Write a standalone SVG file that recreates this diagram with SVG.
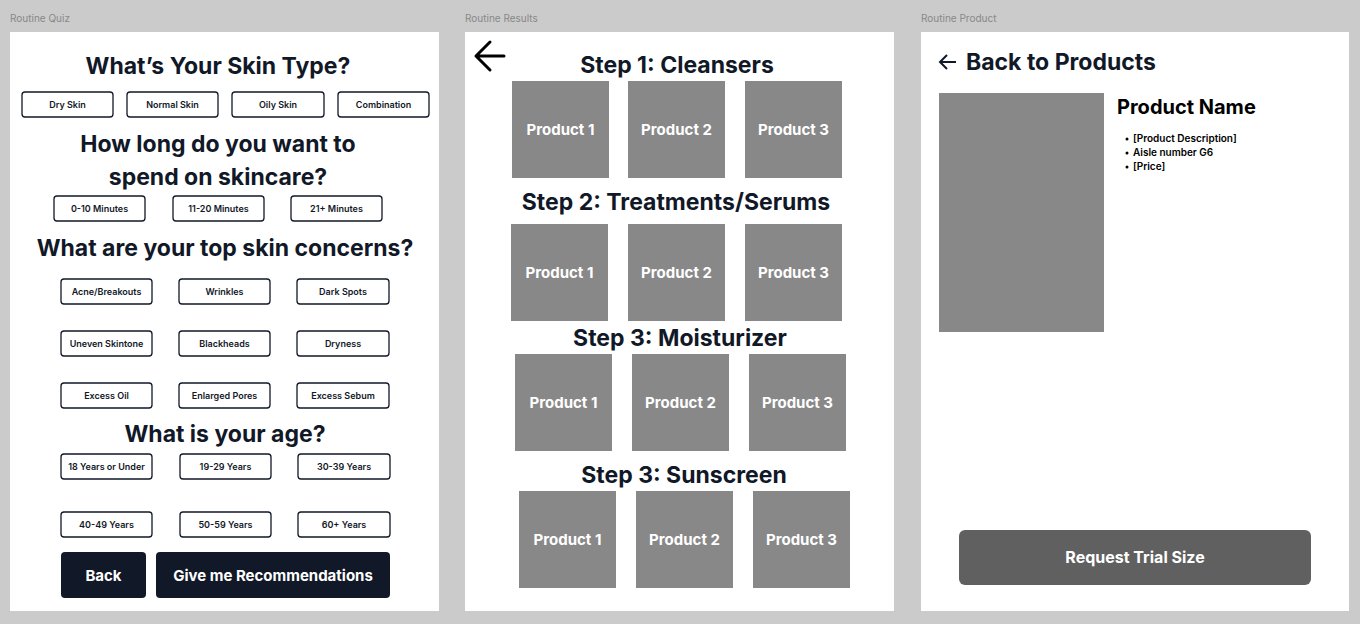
<svg xmlns="http://www.w3.org/2000/svg" width="1360" height="624" viewBox="0 0 1360 624">
<style>
text{font-family:Inter,"Liberation Sans",sans-serif;}
.lbl{font-size:10px;fill:#888;}
.h{font-size:23px;font-weight:700;fill:#111827;text-anchor:middle;}
.ob{fill:#fff;stroke:#111827;stroke-width:1.3;}
.ot{font-size:9px;font-weight:600;fill:#111827;text-anchor:middle;}
.pr{fill:#888;}
.pt{font-size:15px;font-weight:700;fill:#fff;text-anchor:middle;}
</style>
<rect width="1360" height="624" fill="#cbcbcb"/>
<text class="lbl" x="10" y="22">Routine Quiz</text>
<text class="lbl" x="465" y="22">Routine Results</text>
<text class="lbl" x="921" y="22">Routine Product</text>
<g id="quiz">
<rect x="10" y="32" width="429" height="579" fill="#fff"/>
<text class="h" x="218" y="74">What’s Your Skin Type?</text>
<g id="skin-type">
<rect class="ob" x="22" y="92" width="91" height="25" rx="3"/><text class="ot" x="67.5" y="108">Dry Skin</text>
<rect class="ob" x="127" y="92" width="91" height="25" rx="3"/><text class="ot" x="172.5" y="108">Normal Skin</text>
<rect class="ob" x="232" y="92" width="92" height="25" rx="3"/><text class="ot" x="278" y="108">Oily Skin</text>
<rect class="ob" x="338" y="92" width="91" height="25" rx="3"/><text class="ot" x="383.5" y="108">Combination</text>
</g>
<text class="h" x="218" y="152">How long do you want to</text>
<text class="h" x="218" y="185">spend on skincare?</text>
<g id="time">
<rect class="ob" x="54" y="196" width="91" height="25" rx="3"/><text class="ot" x="99.5" y="212">0-10 Minutes</text>
<rect class="ob" x="173" y="196" width="91" height="25" rx="3"/><text class="ot" x="218.5" y="212">11-20 Minutes</text>
<rect class="ob" x="291" y="196" width="91" height="25" rx="3"/><text class="ot" x="336.5" y="212">21+ Minutes</text>
</g>
<text class="h" x="225" y="256">What are your top skin concerns?</text>
<g id="concerns">
<rect class="ob" x="61" y="279" width="91" height="25" rx="3"/><text class="ot" x="106.5" y="295">Acne/Breakouts</text>
<rect class="ob" x="179" y="279" width="91" height="25" rx="3"/><text class="ot" x="224.5" y="295">Wrinkles</text>
<rect class="ob" x="297" y="279" width="92" height="25" rx="3"/><text class="ot" x="343" y="295">Dark Spots</text>
<rect class="ob" x="61" y="331" width="91" height="25" rx="3"/><text class="ot" x="106.5" y="347">Uneven Skintone</text>
<rect class="ob" x="179" y="331" width="91" height="25" rx="3"/><text class="ot" x="224.5" y="347">Blackheads</text>
<rect class="ob" x="297" y="331" width="92" height="25" rx="3"/><text class="ot" x="343" y="347">Dryness</text>
<rect class="ob" x="61" y="383" width="91" height="25" rx="3"/><text class="ot" x="106.5" y="399">Excess Oil</text>
<rect class="ob" x="179" y="383" width="91" height="25" rx="3"/><text class="ot" x="224.5" y="399">Enlarged Pores</text>
<rect class="ob" x="297" y="383" width="92" height="25" rx="3"/><text class="ot" x="343" y="399">Excess Sebum</text>
</g>
<text class="h" x="225" y="442">What is your age?</text>
<g id="age">
<rect class="ob" x="61" y="454" width="91" height="25" rx="3"/><text class="ot" x="106.5" y="470">18 Years or Under</text>
<rect class="ob" x="180" y="454" width="91" height="25" rx="3"/><text class="ot" x="225.5" y="470">19-29 Years</text>
<rect class="ob" x="298" y="454" width="92" height="25" rx="3"/><text class="ot" x="344" y="470">30-39 Years</text>
<rect class="ob" x="61" y="512" width="91" height="25" rx="3"/><text class="ot" x="106.5" y="528">40-49 Years</text>
<rect class="ob" x="180" y="512" width="91" height="25" rx="3"/><text class="ot" x="225.5" y="528">50-59 Years</text>
<rect class="ob" x="298" y="512" width="92" height="25" rx="3"/><text class="ot" x="344" y="528">60+ Years</text>
</g>
<g id="actions">
<rect x="61" y="552" width="85" height="46" rx="4" fill="#111827"/>
<text x="103.5" y="581" font-size="15" font-weight="700" fill="#fff" text-anchor="middle">Back</text>
<rect x="156" y="552" width="234" height="46" rx="4" fill="#111827"/>
<text x="273" y="581" font-size="15" font-weight="700" fill="#fff" text-anchor="middle">Give me Recommendations</text>
</g>
</g>
<g id="results">
<rect x="465" y="32" width="429" height="579" fill="#fff"/>
<path d="M504 56H476M490 42L476 56L490 70" fill="none" stroke="#000" stroke-width="3" stroke-linecap="round" stroke-linejoin="round"/>
<text class="h" x="677" y="73">Step 1: Cleansers</text>
<rect class="pr" x="512" y="81" width="97" height="97"/><text class="pt" x="560.5" y="135">Product 1</text>
<rect class="pr" x="628" y="81" width="97" height="97"/><text class="pt" x="676.5" y="135">Product 2</text>
<rect class="pr" x="745" y="81" width="97" height="97"/><text class="pt" x="793.5" y="135">Product 3</text>
<text class="h" x="676" y="210">Step 2: Treatments/Serums</text>
<rect class="pr" x="511" y="224" width="97" height="97"/><text class="pt" x="559.5" y="278">Product 1</text>
<rect class="pr" x="628" y="224" width="97" height="97"/><text class="pt" x="676.5" y="278">Product 2</text>
<rect class="pr" x="745" y="224" width="97" height="97"/><text class="pt" x="793.5" y="278">Product 3</text>
<text class="h" x="680" y="346">Step 3: Moisturizer</text>
<rect class="pr" x="515" y="354" width="97" height="97"/><text class="pt" x="563.5" y="408">Product 1</text>
<rect class="pr" x="632" y="354" width="97" height="97"/><text class="pt" x="680.5" y="408">Product 2</text>
<rect class="pr" x="749" y="354" width="97" height="97"/><text class="pt" x="797.5" y="408">Product 3</text>
<text class="h" x="684" y="483">Step 3: Sunscreen</text>
<rect class="pr" x="519" y="491" width="97" height="97"/><text class="pt" x="567.5" y="545">Product 1</text>
<rect class="pr" x="636" y="491" width="97" height="97"/><text class="pt" x="684.5" y="545">Product 2</text>
<rect class="pr" x="753" y="491" width="97" height="97"/><text class="pt" x="801.5" y="545">Product 3</text>
</g>
<g id="product">
<rect x="921" y="32" width="428" height="579" fill="#fff"/>
<path d="M956 62H941M947 55L940 62L947 69" fill="none" stroke="#111827" stroke-width="2"/>
<text x="966" y="70" font-size="23" font-weight="700" fill="#111827">Back to Products</text>
<rect class="pr" x="939" y="93" width="165" height="239"/>
<text x="1117" y="114" font-size="20" font-weight="700" fill="#000">Product Name</text>
<g font-size="10" font-weight="600" fill="#000">
<circle cx="1127" cy="139" r="1.5"/><text x="1133" y="142">[Product Description]</text>
<circle cx="1127" cy="153" r="1.5"/><text x="1133" y="156">Aisle number G6</text>
<circle cx="1127" cy="167" r="1.5"/><text x="1133" y="170">[Price]</text>
</g>
<rect x="959" y="530" width="352" height="55" rx="6" fill="#606060"/>
<text x="1135" y="563" font-size="16" font-weight="700" fill="#fff" text-anchor="middle">Request Trial Size</text>
</g>
</svg>
